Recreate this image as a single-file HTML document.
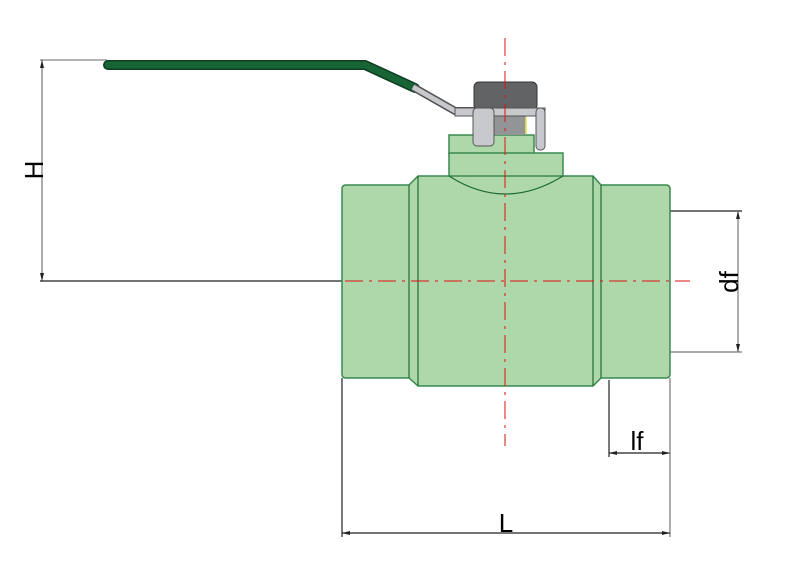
<!DOCTYPE html>
<html><head><style>body{margin:0;background:#fff}svg{display:block}</style></head><body>
<svg width="785" height="566" viewBox="0 0 785 566" xmlns="http://www.w3.org/2000/svg" font-family="Liberation Sans, sans-serif">
<!-- dimension lines -->
<g stroke="#222" stroke-width="1.2" fill="none">
<line x1="40" y1="60" x2="107" y2="60" stroke="#888"/>
<line x1="42" y1="60" x2="42" y2="281" stroke="#777"/>
<line x1="40" y1="281" x2="342" y2="281"/>
<line x1="670" y1="211" x2="742" y2="211"/>
<line x1="670" y1="352" x2="742" y2="352" stroke="#777"/>
<line x1="738" y1="211" x2="738" y2="352" stroke="#777"/>
<line x1="609" y1="380" x2="609" y2="457"/>
<line x1="609" y1="453" x2="670" y2="453"/>
<line x1="342" y1="378" x2="342" y2="537"/>
<line x1="670" y1="378" x2="670" y2="537" stroke="#777"/>
<line x1="342" y1="533" x2="670" y2="533"/>
</g>
<g fill="#222">
<path d="M42 60 l-2 8 h4z M42 281 l-2 -8 h4z"/>
<path d="M738 211 l-2 8 h4z M738 352 l-2 -8 h4z"/>
<path d="M609 453 l8 -2 v4z M670 453 l-8 -2 v4z"/>
<path d="M342 533 l8 -2 v4z M670 533 l-8 -2 v4z"/>
</g>
<text x="0" y="0" font-size="26" transform="translate(43,170) rotate(-90)" text-anchor="middle">H</text>
<text x="0" y="0" font-size="26" transform="translate(738,282) rotate(-90)" text-anchor="middle">df</text>
<text x="637" y="450" font-size="26" text-anchor="middle">lf</text>
<text x="506" y="532" font-size="26" text-anchor="middle">L</text>
<!-- handle -->
<polyline points="108,65 365,65 415,88" fill="none" stroke="#0e3d20" stroke-width="10" stroke-linecap="round" stroke-linejoin="round"/>
<polyline points="108,65 365,65 415,88" fill="none" stroke="#176535" stroke-width="7" stroke-linecap="round" stroke-linejoin="round"/>
<polyline points="413,87 455,111 476,111" fill="none" stroke="#555" stroke-width="8" stroke-linejoin="round"/>
<polyline points="413,87 455,111 476,111" fill="none" stroke="#c8c9cc" stroke-width="5" stroke-linejoin="round"/>
<!-- body -->
<g fill="#afd8aa" stroke="#3a8a50" stroke-width="1.5">
<rect x="449" y="135" width="85" height="19"/>
<rect x="449" y="153" width="114" height="25"/>
<path d="M346 185 H409 L418 176 H593 L601 185 H666 Q670 185 670 189 V374 Q670 378 666 378 H601 L593 386 H418 L409 378 H346 Q342 378 342 374 V189 Q342 185 346 185Z"/>
</g>
<g stroke="#1f6b35" stroke-width="1.2" fill="none">
<line x1="409" y1="185" x2="409" y2="378"/>
<line x1="418" y1="176" x2="418" y2="386"/>
<line x1="593" y1="176" x2="593" y2="386"/>
<line x1="601" y1="185" x2="601" y2="378"/>
<path d="M449 176 Q505 212 563 176"/>
</g>
<!-- stem / nut -->
<rect x="494" y="116" width="32" height="19" fill="#939496"/>
<line x1="526" y1="117" x2="526" y2="134" stroke="#e6e84a" stroke-width="1.5"/>
<rect x="474" y="82" width="63" height="28" rx="5" fill="#626365" stroke="#333" stroke-width="1"/>
<rect x="455" y="108" width="90" height="8" fill="#c8c9cc" stroke="#555" stroke-width="1"/>
<rect x="473" y="108" width="21" height="38" rx="4" fill="#c8c9cc" stroke="#555" stroke-width="1"/>
<rect x="536" y="108" width="9" height="42" rx="4" fill="#c8c9cc" stroke="#555" stroke-width="1"/>
<!-- centerlines -->
<line x1="505" y1="38" x2="505" y2="446" stroke="#d11" stroke-width="1" stroke-dasharray="18,6,3,6"/>
<line x1="345" y1="281" x2="690" y2="281" stroke="#d11" stroke-width="1" stroke-dasharray="18,6,3,6"/>
</svg>
</body></html>
